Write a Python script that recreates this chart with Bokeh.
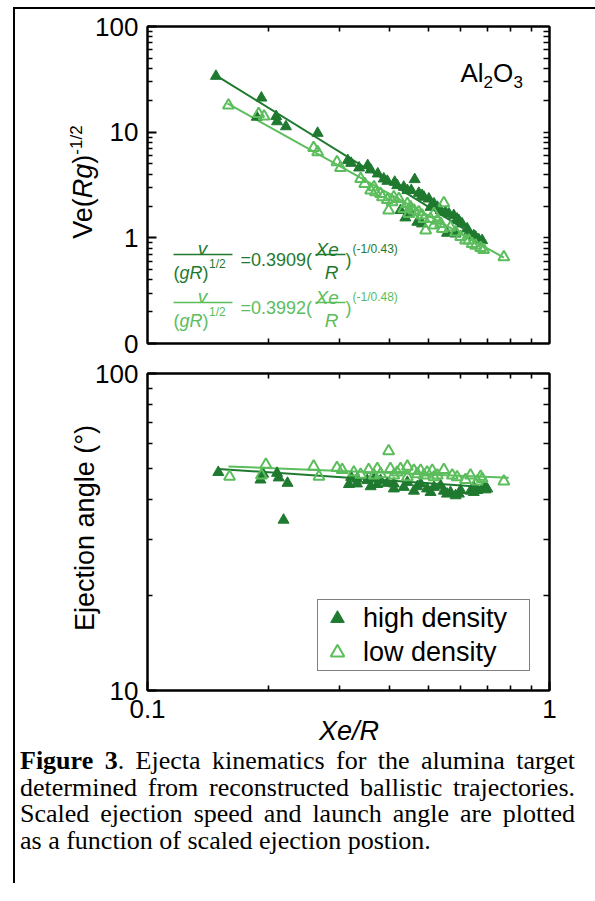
from bokeh.plotting import figure
from bokeh.models import (LogAxis, FixedTicker, BasicTickFormatter, Label, Legend,
                          LegendItem, Div)
from bokeh.layouts import column, row
from bokeh.embed import file_html
from bokeh.resources import INLINE

# ---------------- data ----------------
# scaled ejection speed vs scaled ejection position
vel_x_high = [0.148, 0.192, 0.187, 0.209, 0.210, 0.221, 0.265, 0.315, 0.321, 0.336,
              0.353, 0.359, 0.374, 0.395, 0.412, 0.434, 0.462, 0.453, 0.473, 0.487,
              0.501, 0.516, 0.506, 0.536, 0.551, 0.578, 0.595, 0.606, 0.630, 0.648,
              0.667, 0.438, 0.469, 0.482, 0.556, 0.584, 0.426, 0.451,
              0.387, 0.418, 0.443, 0.482, 0.526, 0.562, 0.589, 0.624, 0.655, 0.680]
vel_high = [33.9, 21.1, 13.9, 14.1, 12.6, 11.3, 9.79, 5.40, 5.09, 4.60,
            4.84, 4.41, 4.04, 3.44, 3.37, 3.02, 3.57, 2.81, 2.65, 2.43,
            2.34, 2.10, 1.95, 1.82, 1.75, 1.63, 1.46, 1.36, 1.13, 1.05,
            0.96, 1.55, 1.41, 1.36, 1.11, 1.09, 1.82, 1.75,
            3.62, 3.13, 2.81, 2.52, 1.95, 1.69, 1.51, 1.22, 1.02, 0.945]
vel_x_low = [0.159, 0.189, 0.195, 0.259, 0.265, 0.296, 0.302, 0.339, 0.347, 0.366,
             0.369, 0.380, 0.395, 0.398, 0.410, 0.422, 0.443, 0.451, 0.460, 0.473,
             0.492, 0.506, 0.526, 0.546, 0.536, 0.567, 0.601, 0.618, 0.642, 0.674,
             0.686, 0.770, 0.482, 0.516,
             0.359, 0.384, 0.406, 0.434, 0.447, 0.487, 0.516, 0.541, 0.584, 0.630,
             0.655]
vel_low = [17.9, 14.9, 14.1, 7.11, 6.47, 5.21, 4.60, 3.62, 3.25, 3.02,
           2.71, 2.61, 2.29, 1.82, 2.43, 2.34, 2.10, 1.95, 1.82, 1.75,
           1.18, 1.51, 1.46, 2.13, 1.36, 1.26, 1.02, 0.945, 0.879, 0.805,
           0.771, 0.657, 1.63, 1.69,
           2.81, 2.43, 2.18, 1.88, 1.69, 1.51, 1.31, 1.22, 1.13, 0.945,
           0.847]
fit_vel_x_high = [0.148, 0.693]
fit_vel_high = [34.5, 0.91]
fit_vel_x_low = [0.158, 0.770]
fit_vel_low = [18.7, 0.65]

# ejection angle vs scaled ejection position
ang_x_high = [0.150, 0.191, 0.194, 0.210, 0.212, 0.223, 0.218, 0.317, 0.321, 0.332,
              0.352, 0.366, 0.373, 0.380, 0.395, 0.410, 0.434, 0.443, 0.469, 0.478,
              0.496, 0.516, 0.536, 0.546, 0.567, 0.595, 0.601, 0.636, 0.648, 0.661,
              0.686, 0.693,
              0.332, 0.359, 0.410, 0.460, 0.506, 0.556, 0.584, 0.648, 0.700]
ang_high = [48.8, 46.2, 48.2, 48.5, 46.9, 45.1, 34.5, 44.7, 47.1, 46.5,
            46.0, 46.5, 44.7, 46.0, 45.1, 44.9, 43.8, 45.4, 44.0, 44.9,
            43.3, 43.8, 44.3, 42.6, 42.2, 41.7, 42.8, 42.6, 43.8, 42.8,
            44.0, 43.0,
            44.9, 44.0, 43.3, 42.6, 42.2, 41.7, 41.2, 42.2, 43.3]
ang_x_low = [0.160, 0.192, 0.197, 0.259, 0.267, 0.296, 0.305, 0.339, 0.355, 0.366,
             0.373, 0.398, 0.402, 0.410, 0.426, 0.443, 0.443, 0.460, 0.478, 0.487,
             0.496, 0.511, 0.516, 0.546, 0.573, 0.618, 0.661, 0.674, 0.770,
             0.326, 0.380, 0.418, 0.469, 0.526, 0.589, 0.636, 0.680]
ang_low = [47.3, 47.7, 51.6, 50.9, 47.3, 50.4, 49.7, 48.0, 49.7, 47.7,
           50.0, 56.9, 50.0, 47.7, 50.0, 50.9, 47.1, 49.4, 49.4, 47.7,
           48.8, 49.4, 47.1, 49.7, 47.7, 46.2, 45.7, 47.3, 45.7,
           48.8, 48.2, 48.8, 48.2, 47.7, 47.1, 47.7, 46.5]
fit_ang_x_high = [0.150, 0.700]
fit_ang_high = [50.0, 43.8]
fit_ang_x_low = [0.159, 0.792]
fit_ang_low = [50.9, 46.9]

# ticks
x_major = [0.1, 1]
x_minor = [0.2, 0.3, 0.4, 0.5, 0.6, 0.7, 0.8, 0.9]
x_labels = {0.1: "0.1", 1: "1"}
vel_major = [0.1, 1, 10, 100]
vel_minor = [0.2, 0.3, 0.4, 0.5, 0.6, 0.7, 0.8, 0.9, 2, 3, 4, 5, 6, 7, 8, 9,
             20, 30, 40, 50, 60, 70, 80, 90]
vel_labels = {0.1: "0", 1: "1", 10: "10", 100: "100"}
ang_major = [10, 100]
ang_minor = [20, 30, 40, 50, 60, 70, 80, 90]
ang_labels = {10: "10", 100: "100"}

DARK = "#1f7a30"
LIGHT = "#5cbd5c"
SANS = "Liberation Sans"

# frame geometry (page pixels) used to place text annotations inside the frames
FL, FW = 147, 402          # frame left, width
T_TOP, T_H = 26, 317       # top panel frame top, height (3 decades)
FIG_W = 60 + 402 + 46


def xd(px):
    return 0.1 * 10 ** ((px - FL) / FW)


def yd_top(py):
    return 10 ** (2 - (py - T_TOP) / (T_H / 3))


def style_axis(ax, ticks, minor, labels=None, tick_in=9):
    ax.ticker = FixedTicker(ticks=ticks, minor_ticks=minor)
    ax.formatter = BasicTickFormatter()
    ax.axis_line_width = 2
    ax.axis_line_color = "black"
    ax.major_tick_in = tick_in
    ax.major_tick_out = 0
    ax.minor_tick_in = 5
    ax.minor_tick_out = 0
    ax.major_tick_line_width = 2
    ax.minor_tick_line_width = 1.6
    ax.major_label_text_font = SANS
    ax.major_label_text_color = "black"
    ax.major_label_text_font_size = "26px"
    ax.major_label_standoff = 9
    if labels:
        ax.major_label_overrides = labels


def make_fig(y_range, mt, mb, yt, ymin, ylab, xlab, right_minor):
    p = figure(width=FIG_W, height=mt + 317 + mb, x_axis_type="log",
               y_axis_type="log", x_range=(0.1, 1), y_range=y_range,
               output_backend="svg", toolbar_location=None, min_border_left=60,
               min_border_right=FIG_W - 462, min_border_top=mt, min_border_bottom=mb)
    p.grid.visible = False
    p.outline_line_color = "black"
    p.outline_line_width = 2
    p.background_fill_color = "white"
    p.border_fill_alpha = 0.0
    if xlab:
        style_axis(p.below[0], x_major, x_minor, xlab)
    else:
        style_axis(p.below[0], [], x_minor)
    style_axis(p.left[0], yt, ymin, ylab)
    top = LogAxis()
    style_axis(top, [], x_minor)
    right = LogAxis()
    style_axis(right, [], right_minor)
    right.minor_tick_in = 6
    p.add_layout(top, "above")
    p.add_layout(right, "right")
    return p


def lab(p, x, y, text, size, color="black", style="normal", align="left"):
    p.add_layout(Label(x=x, y=y, text=text, text_font=SANS, text_font_size=size,
                       text_font_style=style, text_color=color, text_align=align,
                       text_baseline="alphabetic"))


def ytitle(html, height, cy):
    inner = (f'<div style="position:relative;width:72px;height:{height}px;">'
             f'<div style="position:absolute;left:70px;top:{cy}px;'
             'transform:translate(-50%,-50%) rotate(-90deg);white-space:nowrap;'
             f'font-family:{SANS};font-size:27px;line-height:27px;color:black;">'
             f'{html}</div></div>')
    return Div(text=inner, width=72, height=height, margin=0,
               styles={"overflow": "visible"})


# ---------------- top panel: scaled speed ----------------
p1 = make_fig((0.1, 100), 17, 15, vel_major, vel_minor, vel_labels, None,
              [1, 10] + vel_minor)
p1.line(fit_vel_x_low, fit_vel_low, line_color=LIGHT, line_width=2)
p1.line(fit_vel_x_high, fit_vel_high, line_color=DARK, line_width=2)
p1.scatter(vel_x_high, vel_high, marker="triangle", size=11, fill_color=DARK,
           line_color=DARK, line_width=1)
p1.scatter(vel_x_low, vel_low, marker="triangle", size=11, fill_color=None,
           line_color=LIGHT, line_width=2)

# Al2O3
lab(p1, xd(460), yd_top(72), "Al", "26px")
lab(p1, xd(483), yd_top(81), "2", "17px")
lab(p1, xd(492.5), yd_top(72), "O", "26px")
lab(p1, xd(513), yd_top(81), "3", "17px")

# fit equations
for r, col, coef, expo in [(0, DARK, "=0.3909(", "(-1/0.43)"),
                           (48, LIGHT, "=0.3992(", "(-1/0.48)")]:
    lab(p1, xd(202), yd_top(248 + r), "v", "19px", col, "italic", "center")
    lab(p1, xd(173), yd_top(272 + r), "(", "18px", col)
    lab(p1, xd(179), yd_top(272 + r), "gR", "18px", col, "italic")
    lab(p1, xd(202), yd_top(272 + r), ")", "18px", col)
    lab(p1, xd(208.5), yd_top(263 + r), "1/2", "12px", col)
    lab(p1, xd(240), yd_top(259 + r), coef, "18px", col)
    lab(p1, xd(315), yd_top(249 + r), "Xe", "19px", col, "italic")
    lab(p1, xd(331), yd_top(272 + r), "R", "19px", col, "italic", "center")
    lab(p1, xd(345), yd_top(259 + r), ")", "18px", col)
    lab(p1, xd(352), yd_top(248 + r), expo, "12px", col)
    p1.segment(x0=[xd(173), xd(315)], y0=[yd_top(254 + r)] * 2,
               x1=[xd(232), xd(345)], y1=[yd_top(254 + r)] * 2,
               line_color=col, line_width=1.6)

# ---------------- bottom panel: ejection angle ----------------
p2 = make_fig((10, 100), 15, 40, ang_major, ang_minor, ang_labels, x_labels,
              ang_minor)
p2.line(fit_ang_x_low, fit_ang_low, line_color=LIGHT, line_width=2)
p2.line(fit_ang_x_high, fit_ang_high, line_color=DARK, line_width=2)
r_hi = p2.scatter(ang_x_high, ang_high, marker="triangle", size=11, fill_color=DARK,
                  line_color=DARK, line_width=1)
r_lo = p2.scatter(ang_x_low, ang_low, marker="triangle", size=11, fill_color=None,
                  line_color=LIGHT, line_width=2)

legend = Legend(items=[LegendItem(label="high density", renderers=[r_hi]),
                       LegendItem(label="low density", renderers=[r_lo])],
                location=(170, 19), padding=1, spacing=0, margin=0,
                glyph_width=36, glyph_height=34, label_height=34,
                label_standoff=8, label_width=165,
                label_text_font=SANS, label_text_font_size="27px",
                label_text_color="black",
                border_line_color="black", border_line_width=1.5,
                background_fill_color="white", background_fill_alpha=1.0)
p2.add_layout(legend)

# rotated y-axis titles (real HTML text)
t1 = ytitle('Ve(<i>Rg</i>)<span style="font-size:17px;position:relative;'
            'top:-10px;">-1/2</span>', 17 + 317 + 15, 173)
t2 = ytitle('Ejection angle (°)', 15 + 317 + 40, 170)

# x-axis title
xt = Div(text=('<div style="position:relative;width:580px;height:18px;">'
               '<div style="position:absolute;left:334px;top:-12px;'
               'transform:translateX(-50%);white-space:nowrap;'
               f'font-family:{SANS};font-size:27px;line-height:27px;'
               'font-style:italic;color:black;">Xe/R</div></div>'),
         width=580, height=18, margin=0, styles={"overflow": "visible"})

# ---------------- caption ----------------
J = "text-align:justify;text-align-last:justify;white-space:nowrap;width:555px;"
caption_html = (
    '<div style="width:555px;font-family:\'Liberation Serif\',\'Times New Roman\',serif;'
    'font-size:26px;line-height:26.7px;color:black;">'
    f'<div style="{J}"><b>Figure 3</b>. Ejecta kinematics for the alumina target</div>'
    f'<div style="{J}">determined from reconstructed ballistic trajectories.</div>'
    f'<div style="{J}">Scaled ejection speed and launch angle are plotted</div>'
    '<div style="text-align:left;white-space:nowrap;">as a function of scaled ejection postion.</div>'
    '</div>'
)
cap = Div(text=caption_html, width=555, height=135, margin=(0, 5, 0, 5))

layout = column(row(t1, p1, spacing=0), row(t2, p2, spacing=0), xt, cap, spacing=0,
                margin=(7, 0, 0, 13),
                styles={"border-left": "2px solid black",
                        "border-top": "2px solid black"})

open("out.html", "w").write(file_html(layout, INLINE))
